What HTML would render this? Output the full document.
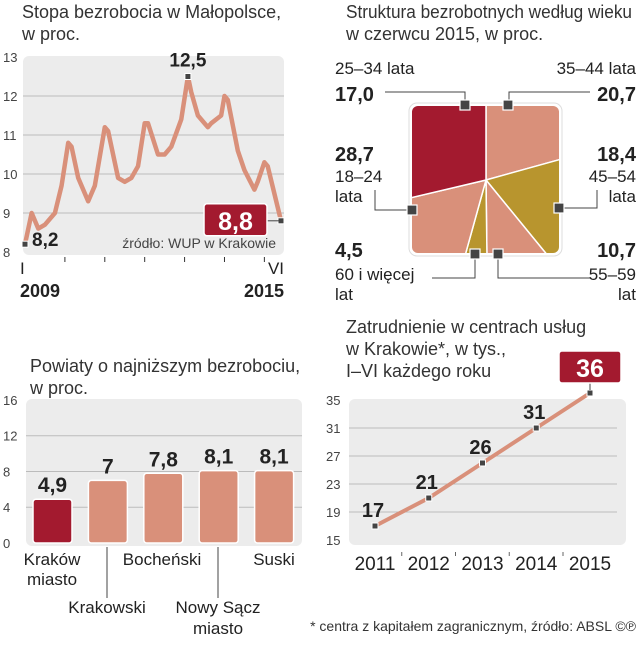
<!DOCTYPE html>
<html><head><meta charset="utf-8">
<style>
body{margin:0;background:#fff;}
svg text{font-family:"Liberation Sans Narrow","Liberation Sans",sans-serif;fill:#222;}
.t{font-size:18px;fill:#333;}
.tk{font-size:13px;fill:#444;}
.b{font-weight:bold;}
</style></head>
<body>
<svg id="s" width="644" height="640" viewBox="0 0 644 640" xmlns="http://www.w3.org/2000/svg">
<text class="t" x="22" y="18">Stopa bezrobocia w Małopolsce,</text>
<text class="t" x="22" y="40">w proc.</text>
<text class="t" x="346" y="18" textLength="286" lengthAdjust="spacingAndGlyphs">Struktura bezrobotnych według wieku</text>
<text class="t" x="346" y="40">w czerwcu 2015, w proc.</text>
<text class="t" x="30" y="372">Powiaty o najniższym bezrobociu,</text>
<text class="t" x="30" y="394">w proc.</text>
<text class="t" x="346" y="333">Zatrudnienie w centrach usług</text>
<text class="t" x="346" y="355">w Krakowie*, w tys.,</text>
<text class="t" x="346" y="377">I–VI każdego roku</text>
<text x="636" y="631" text-anchor="end" style="font-size:14px;fill:#333">* centra z kapitałem zagranicznym, źródło: ABSL ©℗</text>

<g id="line1"></g>
<g id="pie"></g>
<g id="bars"></g>
<g id="line2"></g>
</svg>
<script>
// ---- chart 1 data ----
const c1Months=[0,2,4,6,9,11,13,14,16,19,21,24,25,28,30,32,34,36,37,40,42,44,47,49,50,52,55,56,59,60,61,64,66,69,70,72,73,77];
const c1Values=[8.2,9.0,8.6,8.7,9.0,9.7,10.8,10.7,9.9,9.3,9.7,11.2,11.1,9.9,9.8,9.9,10.2,11.3,11.3,10.5,10.5,10.7,11.4,12.5,12.1,11.5,11.2,11.3,11.5,12.0,11.9,10.6,10.1,9.6,9.8,10.3,10.2,8.8];
const c1Ticks=[8,9,10,11,12,13];
// ---- chart 2 data ----
const pieLabels=["35–44","45–54","55–59","60+","25–34","18–24"];
const pieValues=[20.7,18.4,10.7,4.5,17.0,28.7];
// ---- chart 3 data ----
const barCats=["Kraków miasto","Krakowski","Bocheński","Nowy Sącz miasto","Suski"];
const barValues=[4.9,7,7.8,8.1,8.1];
const barLabels=["4,9","7","7,8","8,1","8,1"];
const barTicks=[0,4,8,12,16];
// ---- chart 4 data ----
const empYears=["2011","2012","2013","2014","2015"];
const empValues=[17,21,26,31,36];
const empTicks=[15,19,23,27,31,35];

const NS="http://www.w3.org/2000/svg";
function mk(p,tag,at,txt){const e=document.createElementNS(NS,tag);for(const k in at)e.setAttribute(k,at[k]);if(txt!==undefined)e.textContent=txt;p.appendChild(e);return e;}
const SAL="#d9907a",RED="#a31a2f",GOLD="#b8952e";

// chart 1
(function(){
const g=document.getElementById('line1');
const x=m=>25+m*(256/77), y=v=>252-(v-8)*39;
const bg=mk(g,'rect',{x:23,y:56,width:261,height:199,rx:6,fill:'#ececec'});


c1Ticks.forEach(t=>{
 if(t>8&&t<13){const l=mk(g,'line',{x1:23,x2:284,y1:y(t),y2:y(t),stroke:'#bbb','stroke-width':1});
 
 }
 const tx=mk(g,'text',{x:3,y:y(t)+5,class:'tk'},String(t));
 
 
});
for(let i=1;i<=6;i++){const l=mk(g,'line',{x1:x(i*12),x2:x(i*12),y1:257,y2:262,stroke:'#333'});
 
 }
const p=mk(g,'polyline',{points:c1Months.map((m,i)=>x(m)+','+y(c1Values[i])).join(' '),fill:'none',stroke:SAL,'stroke-width':4.5,'stroke-linejoin':'round'});


const last=c1Months.length-1, iMax=c1Values.indexOf(Math.max(...c1Values));
[0,iMax,last].forEach(i=>{const r=mk(g,'rect',{x:x(c1Months[i])-3,y:y(c1Values[i])-3,width:6,height:6,fill:'#444',stroke:'#fff','stroke-width':1});
 
 });
let t=mk(g,'text',{x:x(0)+7,y:y(c1Values[0])+2,class:'b','font-size':19},String(c1Values[0]).replace('.',','));


t=mk(g,'text',{x:x(c1Months[iMax]),y:y(c1Values[iMax])-10,class:'b','font-size':19,'text-anchor':'middle'},String(c1Values[iMax]).replace('.',','));


const ly=y(c1Values[last]);
mk(g,'line',{x1:266,x2:x(77),y1:ly,y2:ly,stroke:'#444'});
const bx=mk(g,'rect',{x:204,y:ly-17,width:63,height:32,rx:3,fill:RED,stroke:'#fff','stroke-width':1.5});


t=mk(g,'text',{x:235.5,y:ly+9,class:'b','font-size':25,'text-anchor':'middle',style:'fill:#fff'},String(c1Values[last]).replace('.',','));


t=mk(g,'text',{x:276,y:248,'font-size':14,'text-anchor':'end',style:'fill:#444'},'źródło: WUP w Krakowie');


[['I',20,274,'start'],['VI',284,274,'end']].forEach(a=>{const e=mk(g,'text',{x:a[1],y:a[2],'font-size':17,'text-anchor':a[3]},a[0]);
 
 });
[['2009',20,'start'],['2015',284,'end']].forEach(a=>{const e=mk(g,'text',{x:a[1],y:297,'font-size':18,class:'b','text-anchor':a[2]},a[0]);
 
 });
})();

// chart 2
(function(){
const g=document.getElementById('pie');
const cx=486,cy=180,L=412,R=559,T=106,B=253;
const colors=[SAL,GOLD,SAL,GOLD,SAL,RED];
mk(g,'rect',{x:L-3,y:T-3,width:R-L+6,height:B-T+6,rx:8,fill:'#fff',stroke:'#ddd'});
mk(mk(g,'clipPath',{id:'sq'}),'rect',{x:L,y:T,width:R-L,height:B-T,rx:6});
const total=pieValues.reduce((a,b)=>a+b,0);
let acc=0;
pieValues.forEach((v,i)=>{
 const a0=acc/total*2*Math.PI;acc+=v;const a1=acc/total*2*Math.PI;
 const pts=[[cx,cy]];const n=24;
 for(let k=0;k<=n;k++){const a=a0+(a1-a0)*k/n;pts.push([cx+Math.sin(a)*300,cy-Math.cos(a)*300]);}
 const p=mk(g,'polygon',{points:pts.map(q=>q.join(',')).join(' '),fill:colors[i],stroke:'#fff','stroke-width':1.5,'clip-path':'url(#sq)'});
 
 
});
const conn=[["M385,92 H465 V104",465,105],["M590,92 H509 V104",508,105],["M375,190 V210 H410",412,210],["M597,190 V208 H560",559,208],["M432,278 H475 V256",475,254],["M590,278 H498 V256",498,254]];
conn.forEach(c=>{mk(g,'path',{d:c[0],fill:'none',stroke:'#444'});
 const r=mk(g,'rect',{x:c[1]-5,y:c[2]-5,width:10,height:10,fill:'#444',stroke:'#fff','stroke-width':1.2});
 
 });
const fmt=v=>v.toFixed(1).replace('.',',');
const labs=[
 [335,74,'start',false,'25–34 lata'],[335,101,'start',true,fmt(pieValues[4])],
 [636,74,'end',false,'35–44 lata'],[636,101,'end',true,fmt(pieValues[0])],
 [335,161,'start',true,fmt(pieValues[5])],[335,182,'start',false,'18–24'],[335,202,'start',false,'lata'],
 [636,161,'end',true,fmt(pieValues[1])],[636,182,'end',false,'45–54'],[636,202,'end',false,'lata'],
 [335,257,'start',true,fmt(pieValues[3])],[335,280,'start',false,'60 i więcej'],[335,300,'start',false,'lat'],
 [636,257,'end',true,fmt(pieValues[2])],[636,280,'end',false,'55–59'],[636,300,'end',false,'lat']];
labs.forEach(l=>{const e=mk(g,'text',{x:l[0],y:l[1],'text-anchor':l[2],'font-size':l[3]?20:17,class:l[3]?'b':''},l[4]);
 
 });
})();

// chart 3
(function(){
const g=document.getElementById('bars');
const y=v=>543-v*8.94;
const bg=mk(g,'rect',{x:26,y:399,width:276,height:147,rx:6,fill:'#ececec'});


barTicks.forEach(t=>{
 if(t>0&&t<16){const l=mk(g,'line',{x1:26,x2:302,y1:y(t),y2:y(t),stroke:'#bbb'});
 
 }
 const tx=mk(g,'text',{x:3,y:y(t)+5,class:'tk'},String(t));
 
 
});
barValues.forEach((v,i)=>{
 const x=33+i*55.4;
 const r=mk(g,'rect',{x:x,y:y(v),width:39,height:543-y(v),rx:3,fill:i===0?RED:SAL,stroke:'#fff','stroke-width':1.5});
 
 
 const t=mk(g,'text',{x:x+19.5,y:y(v)-7,class:'b','font-size':21,'text-anchor':'middle'},barLabels[i]);
 
 
});
const cat=[[52,565,null,'Kraków'],[52,585,null,'miasto'],[107,613,[107,547,598],'Krakowski'],[162,565,null,'Bocheński'],[218,613,[218,547,598],'Nowy Sącz'],[218,634,null,'miasto'],[274,565,null,'Suski']];
cat.forEach(c=>{if(c[2]){mk(g,'line',{x1:c[2][0],x2:c[2][0],y1:c[2][1],y2:c[2][2],stroke:'#444'});}
 const t=mk(g,'text',{x:c[0],y:c[1],'font-size':17,'text-anchor':'middle'},c[3]);
 
 });
})();

// chart 4
(function(){
const g=document.getElementById('line2');
const x=i=>375+i*53.75, y=v=>540-(v-15)*7;
const bg=mk(g,'rect',{x:349,y:399,width:277,height:146,rx:6,fill:'#ececec'});


empTicks.forEach(t=>{
 if(t>15&&t<35){const l=mk(g,'line',{x1:349,x2:617,y1:y(t),y2:y(t),stroke:'#bbb'});
 
 }
 const tx=mk(g,'text',{x:326,y:y(t)+5,class:'tk'},String(t));
 
 
});
const p=mk(g,'polyline',{points:empValues.map((v,i)=>x(i)+','+y(v)).join(' '),fill:'none',stroke:SAL,'stroke-width':4});


empValues.forEach((v,i)=>{
 const r=mk(g,'rect',{x:x(i)-3,y:y(v)-3,width:6,height:6,fill:'#444',stroke:'#fff'});
 
 
 if(i<empValues.length-1){const t=mk(g,'text',{x:x(i)-2,y:y(v)-9,class:'b','font-size':20,'text-anchor':'middle'},String(v));
 
 }
 const yl=mk(g,'text',{x:x(i),y:570,'font-size':19,'text-anchor':'middle'},empYears[i]);
 
 
 if(i>0){mk(g,'line',{x1:x(i)-27,x2:x(i)-27,y1:552,y2:556,stroke:'#666'});}
});
const li=empValues.length-1;
mk(g,'line',{x1:x(li),x2:x(li),y1:y(empValues[li])-3,y2:y(empValues[li])-12,stroke:'#444'});
const bx=mk(g,'rect',{x:x(li)-31,y:y(empValues[li])-42,width:62,height:32,rx:3,fill:RED,stroke:'#fff','stroke-width':1.5});


const t=mk(g,'text',{x:x(li),y:y(empValues[li])-16,class:'b','font-size':25,'text-anchor':'middle',style:'fill:#fff'},String(empValues[li]));


})();
</script>
</body></html>
